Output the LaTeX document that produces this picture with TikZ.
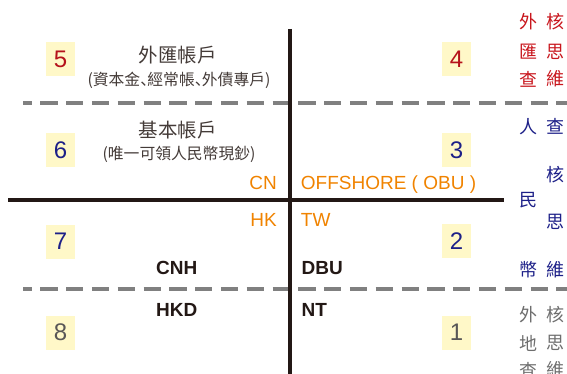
\documentclass[tikz,border=0pt]{standalone}
\usepackage{fontspec}
\setmainfont{Liberation Sans}
\newfontfamily\cjk{Noto Sans CJK TC}
\newfontfamily\cjkjp{Noto Sans CJK JP}
\newcommand{\tdot}{{\cjkjp 、}\kern-0.55em}
\definecolor{boxyellow}{HTML}{FFF8C8}
\definecolor{numred}{HTML}{B5121B}
\definecolor{numblue}{HTML}{1D2088}
\definecolor{numgray}{HTML}{595757}
\definecolor{txtgray}{HTML}{6E6E6E}
\definecolor{linegray}{HTML}{808080}
\definecolor{inkblack}{HTML}{231815}
\definecolor{orangelbl}{HTML}{F08300}
\definecolor{redtxt}{HTML}{C8161D}
\tikzset{
  numbox/.style={fill=boxyellow, minimum width=29pt, minimum height=34pt, inner sep=0pt, font=\fontsize{24}{24}\selectfont},
  solidline/.style={line width=3.6pt, inkblack},
  dashline/.style={line width=3.7pt, linegray, dash pattern=on 17.2pt off 8.6pt, dash phase=8.5pt},
  title/.style={inner sep=0pt, font=\cjk\fontsize{19.5}{20}\selectfont, text=inkblack!85},
  subtitle/.style={inner sep=0pt, font=\cjk\fontsize{15.8}{16}\selectfont, text=inkblack!85},
  region/.style={inner sep=0pt, font=\fontsize{19}{19}\selectfont, text=orangelbl},
  code/.style={inner sep=0pt, font=\bfseries\fontsize{19}{19}\selectfont, text=inkblack},
  side/.style={inner sep=0pt, font=\cjk\fontsize{18}{18}\selectfont}
}
\begin{document}
\begin{tikzpicture}[x=1pt,y=-1pt]
\useasboundingbox (0,0) rectangle (567,374);
% dashed separators
\coordinate (d1a) at (23,103); \coordinate (d1b) at (567,103);
\coordinate (d2a) at (23,289); \coordinate (d2b) at (567,289);
\draw[dashline] (d1a) -- (d1b);
\draw[dashline] (d2a) -- (d2b);
% axes
\coordinate (vt) at (290,29); \coordinate (vb) at (290,374);
\coordinate (hl) at (8,200); \coordinate (hr) at (504,200);
\draw[solidline] (vt) -- (vb);
\draw[solidline] (hl) -- (hr);
% number boxes
\node[numbox, text=numred]  (n5) at (60.5,59.5) {5};
\node[numbox, text=numblue] (n6) at (60.5,150.5) {6};
\node[numbox, text=numblue] (n7) at (60.5,241.5) {7};
\node[numbox, text=numgray] (n8) at (60.5,332.5) {8};
\node[numbox, text=numred]  (n4) at (456.5,59.5) {4};
\node[numbox, text=numblue] (n3) at (456.5,150.5) {3};
\node[numbox, text=numblue] (n2) at (456.5,241) {2};
\node[numbox, text=numgray] (n1) at (456.5,332.5) {1};
% titles
\node[title] (t5) at (177.7,55) {外匯帳戶};
\node[subtitle] (s5) at (179,80) {(資本金\tdot 經常帳\tdot 外債專戶)};
\node[title] (t6) at (177.7,130.5) {基本帳戶};
\node[subtitle] (s6) at (179,154) {(唯一可領人民幣現鈔)};
% region labels
\node[region, anchor=base east] (cn) at (277,189.5) {CN};
\node[region, anchor=base west] (obu) at (300.7,189.5) {OFFSHORE ( OBU )};
\node[region, anchor=base east] (hk) at (277,226) {HK};
\node[region, anchor=base west] (tw) at (300.7,226) {TW};
% currency codes
\node[code, anchor=base] (cnh) at (176.7,274) {CNH};
\node[code, anchor=base] (hkd) at (176.7,316.5) {HKD};
\node[code, anchor=base west] (dbu) at (301.5,274) {DBU};
\node[code, anchor=base west] (nt) at (301.5,316) {NT};
% side text (red)
\node[side, text=redtxt] (r11) at (528,21.7) {外};
\node[side, text=redtxt] (r12) at (555.5,21.7) {核};
\node[side, text=redtxt] (r21) at (528,51.7) {匯};
\node[side, text=redtxt] (r22) at (555.5,51.7) {思};
\node[side, text=redtxt] (r31) at (528,79) {查};
\node[side, text=redtxt] (r32) at (555.5,79) {維};
% side text (blue)
\node[side, text=numblue] (b11) at (528,126.7) {人};
\node[side, text=numblue] (b12) at (555.5,126.7) {查};
\node[side, text=numblue] (b22) at (555.5,175) {核};
\node[side, text=numblue] (b31) at (528,200) {民};
\node[side, text=numblue] (b42) at (555.5,221.7) {思};
\node[side, text=numblue] (b51) at (528,269.3) {幣};
\node[side, text=numblue] (b52) at (555.5,269.3) {維};
% side text (gray)
\node[side, text=txtgray] (g11) at (528,315) {外};
\node[side, text=txtgray] (g12) at (555.5,315) {核};
\node[side, text=txtgray] (g21) at (528,343) {地};
\node[side, text=txtgray] (g22) at (555.5,343) {思};
\node[side, text=txtgray] (g31) at (528,370) {查};
\node[side, text=txtgray] (g32) at (555.5,370) {維};
\end{tikzpicture}
\end{document}
